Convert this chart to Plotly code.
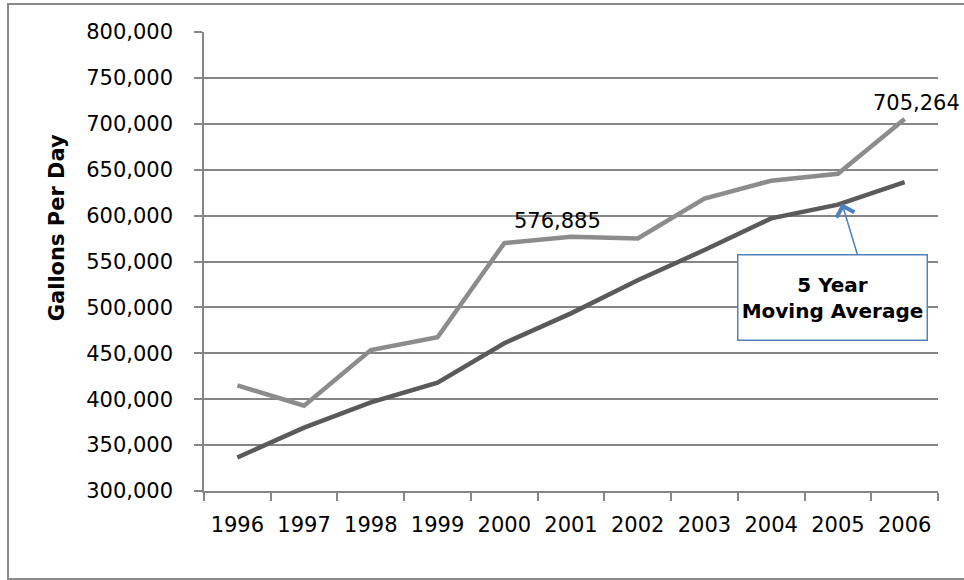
import plotly.graph_objects as go

years = ["1996", "1997", "1998", "1999", "2000", "2001", "2002", "2003", "2004", "2005", "2006"]
gallons = [415000, 393000, 453500, 467500, 570000, 576885, 575000, 618500, 638000, 645500, 705264]
moving_avg = [336500, 369000, 396500, 418000, 461000, 493500, 529500, 562500, 597000, 612000, 636500]
y_ticks = [300000, 350000, 400000, 450000, 500000, 550000, 600000, 650000, 700000, 750000, 800000]
labelled_years = ["2001", "2006"]
y_title = "Gallons Per Day"
callout_text = "<b>5 Year<br>Moving Average</b>"

FONT = "DejaVu Sans"
GRID = "#868686"

fig = go.Figure()
fig.add_trace(go.Scatter(x=years, y=gallons, mode="lines",
                         line=dict(color="#8c8c8c", width=4.5), hoverinfo="skip"))
fig.add_trace(go.Scatter(x=years, y=moving_avg, mode="lines",
                         line=dict(color="#5a5a5a", width=4.5), hoverinfo="skip"))

annotations = []
label_xshift = {"2001": -14, "2006": 12}
for yr in labelled_years:
    i = years.index(yr)
    annotations.append(dict(x=i, y=gallons[i], text=f"{gallons[i]:,}", showarrow=False,
                            xanchor="center", yanchor="bottom", yshift=2,
                            xshift=label_xshift[yr],
                            font=dict(family=FONT, size=21, color="#000")))

# y axis title
annotations.append(dict(xref="paper", yref="paper", x=-0.2, y=0.573, text=f"<b>{y_title}</b>",
                        textangle=-90, showarrow=False, xanchor="center", yanchor="middle",
                        font=dict(family=FONT, size=21, color="#000")))

# callout box
annotations.append(dict(x=8.915, y=511000, text=callout_text, showarrow=False,
                        xanchor="center", yanchor="middle", width=188, height=84,
                        bordercolor="#4f81bd", borderwidth=1.5, borderpad=0, bgcolor="white",
                        align="center", font=dict(family=FONT, size=20, color="#000")))
# callout arrow
i05 = years.index("2005")
annotations.append(dict(x=i05 + 0.06, y=moving_avg[i05] + 1500, text="", showarrow=True,
                        ax=16, ay=53, arrowhead=4, arrowsize=2.4, arrowwidth=1.5,
                        arrowcolor="#4f81bd"))

fig.update_layout(
    width=964, height=580,
    margin=dict(l=204, r=26, t=32, b=89),
    paper_bgcolor="white", plot_bgcolor="white",
    showlegend=False,
    font=dict(family=FONT, size=21, color="#000"),
    annotations=annotations,
    shapes=[dict(type="rect", xref="paper", yref="paper", x0=-0.267, x1=1.2,
                 y0=-0.1917, y1=1.061, line=dict(color="#8a8a8a", width=2),
                 fillcolor="rgba(0,0,0,0)", layer="below")],
)
fig.update_xaxes(type="category", range=[-0.5, 10.5], showgrid=False,
                 showline=True, linecolor=GRID, linewidth=1.5,
                 ticks="outside", tickson="boundaries", ticklen=8, tickcolor=GRID, tickwidth=1.5,
                 ticklabelstandoff=14,
                 tickfont=dict(family=FONT, size=21), fixedrange=True)
fig.update_yaxes(range=[300000, 800000], tickvals=y_ticks,
                 ticktext=[f"{v:,}" for v in y_ticks],
                 showgrid=True, gridcolor=GRID, gridwidth=1.6,
                 showline=True, linecolor=GRID, linewidth=1.6,
                 ticks="outside", ticklen=8, tickcolor=GRID, tickwidth=1.6,
                 ticklabelstandoff=17,
                 tickfont=dict(family=FONT, size=21), zeroline=False, fixedrange=True)

fig.write_html("out.html")
